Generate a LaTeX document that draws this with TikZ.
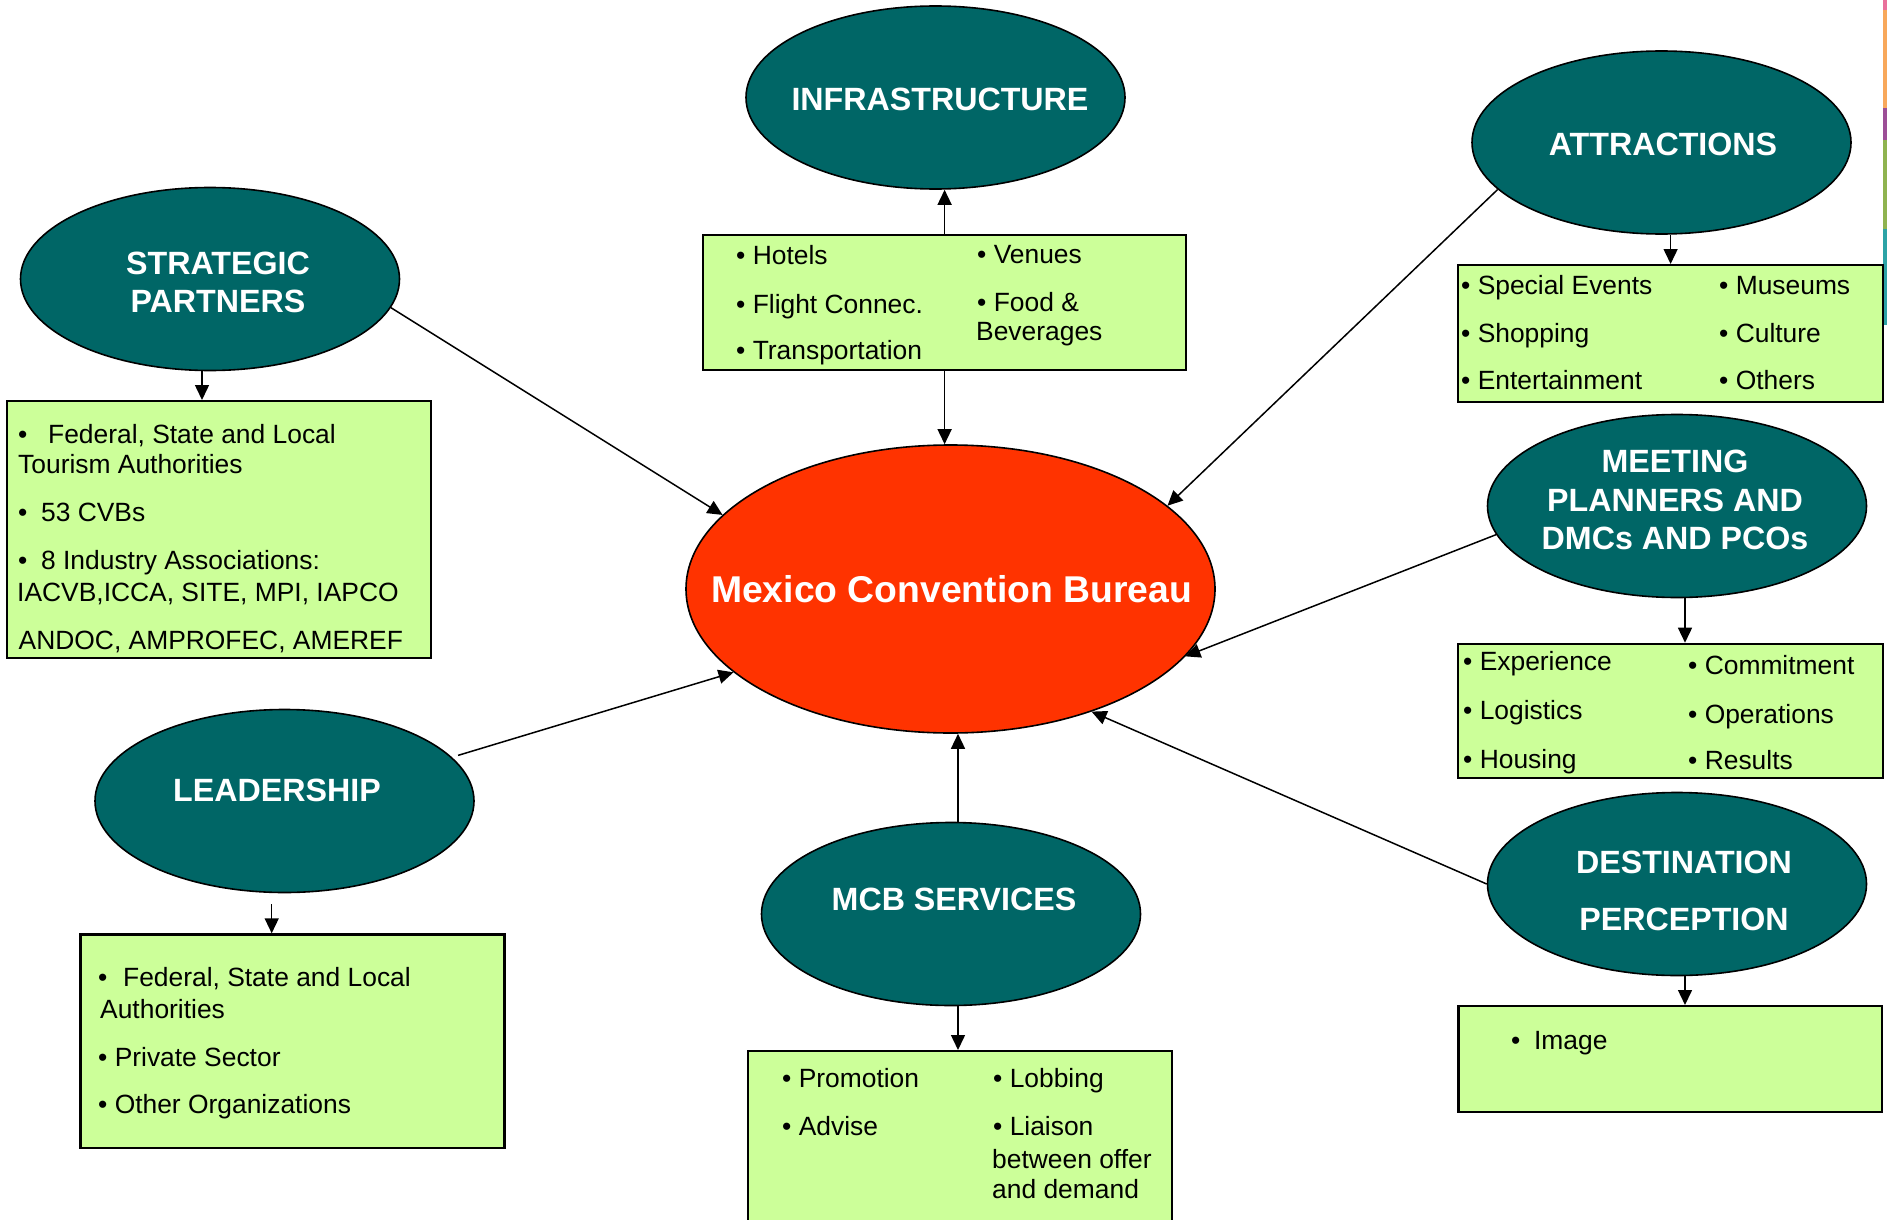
\documentclass[tikz,border=0pt]{standalone}
\usepackage{fontspec}
\setmainfont{Liberation Sans}
\usetikzlibrary{shapes.geometric,arrows.meta,calc}
\definecolor{ellteal}{HTML}{006666}
\definecolor{mcbred}{HTML}{FF3300}
\definecolor{boxgreen}{HTML}{CCFF99}
\definecolor{stpink}{HTML}{E9709B}
\definecolor{storange}{HTML}{F8A85B}
\definecolor{stpurple}{HTML}{9C4E96}
\definecolor{stgreen}{HTML}{8FB350}
\definecolor{stteal}{HTML}{2CA3A6}
\begin{document}
\begin{tikzpicture}[x=1pt,y=-1pt,
  ell/.style={ellipse, draw=black, line width=1.6pt, fill=ellteal, inner sep=0pt, minimum width=379pt, minimum height=183pt},
  lbl/.style={text=white, font=\fontsize{32.2}{38}\selectfont\bfseries, anchor=base, inner sep=0pt},
  boxx/.style={draw=black, line width=2.2pt, fill=boxgreen, anchor=north west, inner sep=0pt},
  txt/.style={font=\fontsize{26.4}{31}\selectfont, anchor=base west, inner sep=0pt},
  arr/.style={line width=1.5pt, -{Triangle[length=15pt,width=14pt]}}
]
\useasboundingbox[fill=white] (0,0) rectangle (1887,1220);

% right edge strip
\fill[stpink] (1882.7,0) rectangle (1887,10);
\fill[storange] (1882.7,10) rectangle (1887,108);
\fill[stpurple] (1882.7,108) rectangle (1887,140);
\fill[stgreen] (1882.7,140) rectangle (1887,229);
\fill[stteal] (1882.7,229) rectangle (1887,325);

% ellipses
\node[ell] (infra) at (935.5,97.5) {};
\node[ell] (attr) at (1661.5,142.5) {};
\node[ell] (strat) at (210,279) {};
\node[ell] (meet) at (1677,506) {};
\node[ell] (lead) at (284.5,801) {};
\node[ell] (svc) at (951,914) {};
\node[ell] (dest) at (1677,884) {};
\node[ellipse, draw=black, line width=1.6pt, fill=mcbred, inner sep=0pt, minimum width=529pt, minimum height=288pt] (mcb) at (950.5,589) {};

% ellipse labels
\node[lbl] (linfra) at (940,111) {INFRASTRUCTURE};
\node[lbl] (lattr) at (1663,155.5) {ATTRACTIONS};
\node[lbl] (lstrat1) at (218,274.5) {STRATEGIC};
\node[lbl] (lstrat2) at (218,312.5) {PARTNERS};
\node[lbl] (lmeet1) at (1675,472.5) {MEETING};
\node[lbl] (lmeet2) at (1675,511.7) {PLANNERS AND};
\node[lbl] (lmeet3) at (1675,549.5) {DMCs AND PCOs};
\node[lbl] (llead) at (277,801.5) {LEADERSHIP};
\node[lbl] (lsvc) at (954,910) {MCB SERVICES};
\node[lbl] (ldest1) at (1684,873.3) {DESTINATION};
\node[lbl] (ldest2) at (1684,930.7) {PERCEPTION};
\node[lbl, font=\fontsize{37.3}{44}\selectfont\bfseries] (lmcb) at (951.5,602.7) {Mexico Convention Bureau};

% boxes
\node[boxx, minimum width=483pt, minimum height=135pt] (ibox) at (702,234) {};
\node[boxx, minimum width=425pt, minimum height=137pt] (abox) at (1457,264) {};
\node[boxx, minimum width=424pt, minimum height=257pt] (sbox) at (6,400) {};
\node[boxx, minimum width=425pt, minimum height=134pt] (mbox) at (1457,642.7) {};
\node[boxx, minimum width=424pt, minimum height=213.4pt] (lbox) at (79.3,933.3) {};
\node[boxx, minimum width=424pt, minimum height=200pt] (svbox) at (746.7,1050) {};
\node[boxx, minimum width=423.4pt, minimum height=105.7pt] (dbox) at (1457.3,1005) {};

% infrastructure box text
\node[txt] (i1) at (736,264) {• Hotels};
\node[txt] (i2) at (736,313) {• Flight Connec.};
\node[txt] (i3) at (736,359.5) {• Transportation};
\node[txt] (i4) at (977,263) {• Venues};
\node[txt] (i5) at (977,311) {• Food \&};
\node[txt] (i6) at (976,340.5) {Beverages};

% attractions box text
\node[txt] (a1) at (1461,294) {• Special Events};
\node[txt] (a2) at (1461,342) {• Shopping};
\node[txt] (a3) at (1461,389.5) {• Entertainment};
\node[txt] (a4) at (1719,294) {• Museums};
\node[txt] (a5) at (1719,342) {• Culture};
\node[txt] (a6) at (1719,389.5) {• Others};

% strategic partners box text
\node[txt] (s1) at (18,443) {•\hspace{20.7pt}Federal, State and Local};
\node[txt] (s2) at (18,473) {Tourism Authorities};
\node[txt] (s3) at (18,521.5) {•\hspace{13.7pt}53 CVBs};
\node[txt] (s4) at (18,569.5) {•\hspace{13.7pt}8 Industry Associations:};
\node[txt] (s5) at (17,601.5) {IACVB,ICCA, SITE, MPI, IAPCO};
\node[txt] (s6) at (18.5,649.5) {ANDOC, AMPROFEC, AMEREF};

% meeting planners box text
\node[txt] (m1) at (1463,670.5) {• Experience};
\node[txt] (m2) at (1463,719.5) {• Logistics};
\node[txt] (m3) at (1463,768) {• Housing};
\node[txt] (m4) at (1688,674.5) {• Commitment};
\node[txt] (m5) at (1688,723) {• Operations};
\node[txt] (m6) at (1688,769.5) {• Results};

% leadership box text
\node[txt] (l1) at (98,986.5) {•\hspace{15.7pt}Federal, State and Local};
\node[txt] (l2) at (100,1018) {Authorities};
\node[txt] (l3) at (98,1066.5) {• Private Sector};
\node[txt] (l4) at (98,1113) {• Other Organizations};

% MCB services box text
\node[txt] (v1) at (782,1087) {• Promotion};
\node[txt] (v2) at (782,1135.5) {• Advise};
\node[txt] (v3) at (993,1087) {• Lobbing};
\node[txt] (v4) at (993,1135.5) {• Liaison};
\node[txt] (v5) at (992,1168) {between offer};
\node[txt] (v6) at (992,1198) {and demand};

% destination box text
\node[txt] (d1) at (1511,1049.5) {•\hspace{13.7pt}Image};

% connectors
\draw[arr] (ibox.north) -- (ibox.north |- infra.south);
\draw[arr] (ibox.south) -- (ibox.south |- mcb.north);
\draw[arr] (attr.south -| abox.north) -- (abox.north);
\draw[arr] (attr.196) -- (mcb.21);
\draw[arr] ([xshift=-8pt]strat.south) -- ([xshift=-8pt]strat.south |- sbox.north);
\draw[arr] (strat.351) -- (mcb.162);
\draw[arr] (meet.189) -- (mcb.344);
\draw[arr] ([xshift=8pt]meet.south) -- ([xshift=8pt]meet.south |- mbox.north);
\draw[arr] ([shift={(7,-1)}]lead.15) -- (mcb.201);
\draw[arr] ([xshift=-12.8pt,yshift=-10.7pt]lead.south) -- ([xshift=-12.8pt]lead.south |- lbox.north);
\draw[arr] ([xshift=7pt]svc.north) -- ([xshift=7pt]svc.north |- mcb.south);
\draw[arr] ([xshift=7pt]svc.south) -- ([xshift=7pt]svc.south |- svbox.north);
\draw[arr] (dest.180) -- (mcb.319);
\draw[arr] ([xshift=8pt]dest.south) -- ([xshift=8pt]dest.south |- dbox.north);
\end{tikzpicture}
\end{document}
